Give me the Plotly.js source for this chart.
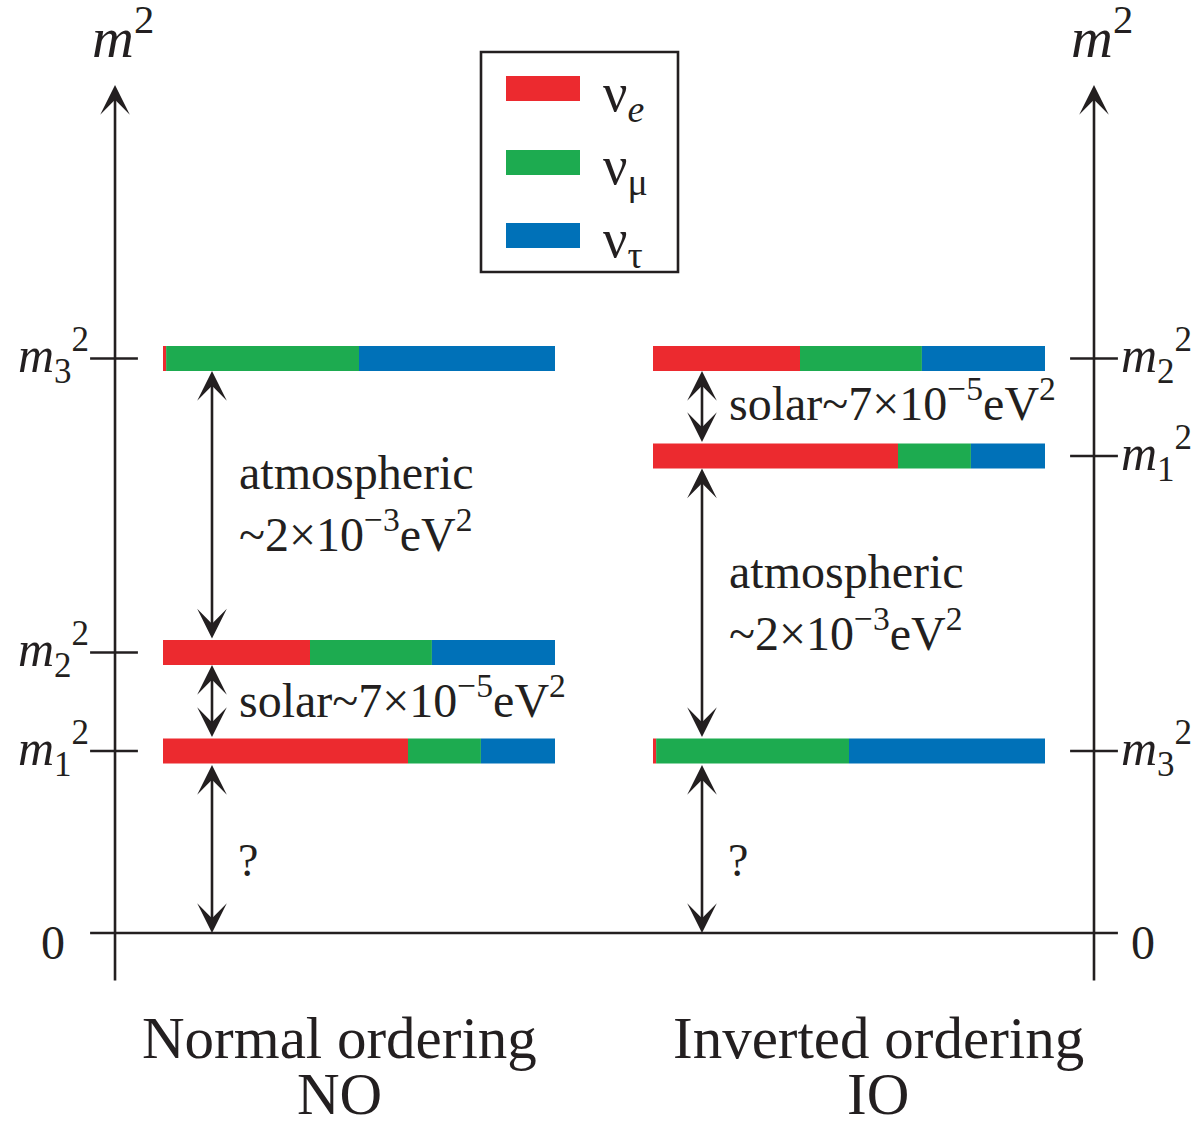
<!DOCTYPE html>
<html>
<head>
<meta charset="utf-8">
<script src="https://cdn.plot.ly/plotly-3.0.1.min.js"></script>
<style>
  html, body { margin: 0; padding: 0; background: #ffffff; }
  #chart { width: 1198px; height: 1122px; }
</style>
</head>
<body>
<div id="chart"></div>
<script>
// Flavour content of each mass eigenstate (fraction of nu_e, nu_mu, nu_tau)
const massStates = ['m1', 'm2', 'm3'];
const fracE   = [0.625, 0.375, 0.008];
const fracMu  = [0.186, 0.311, 0.492];
const fracTau = [0.189, 0.314, 0.500];

const flavourLabels = ['ν<sub><i>e</i></sub>', 'ν<sub>μ</sub>', 'ν<sub>τ</sub>'];
const flavourColors = ['#EC2A2F', '#1DAB50', '#0071B8'];

// Schematic height of every mass level above zero (arbitrary units)
const levelsNO = [1.82, 2.805, 5.745];   // m1, m2, m3
const levelsIO = [4.77, 5.745, 1.82];    // m1, m2, m3

const massLabels = ['<i>m</i><sub>1</sub><sup>2</sup>',
                    '<i>m</i><sub>2</sub><sup>2</sup>',
                    '<i>m</i><sub>3</sub><sup>2</sup>'];

const orderingNames = ['Normal ordering', 'Inverted ordering'];
const orderingShort = ['NO', 'IO'];
const solarText = 'solar~7×10<sup>−5</sup>eV<sup>2</sup>';
const atmText = 'atmospheric<br>~2×10<sup>−3</sup>eV<sup>2</sup>';

// ---- geometry of the schematic (x in units of one bar length) ----
const INK = '#231F20';
const FONT = 'Liberation Serif, Times New Roman, serif';
const LW = 2.6;
const HEAD = 1.9;
const panelStart = [0, 1.25];            // left edge of NO and IO bars
const barThick = 0.25;                   // bar thickness in level units
const axisX = [-0.1224, 2.375];          // the two vertical m^2 axes
const tickSpan = [[-0.186, -0.064], [2.314, 2.436]];
const arrowDx = 0.125;                   // splitting arrows, from bar start
const axisBottom = -0.49, axisTop = 8.48;

const allLevels = [levelsNO, levelsIO];
const fracs = [fracE, fracMu, fracTau];

// stacked horizontal bars, one trace per flavour
const traces = [];
for (let f = 0; f < 3; f++) {
  const y = [], x = [], base = [];
  allLevels.forEach((lv, p) => {
    for (let s = 0; s < massStates.length; s++) {
      let before = 0;
      for (let k = 0; k < f; k++) before += fracs[k][s];
      y.push(lv[s]);
      x.push(fracs[f][s]);
      base.push(panelStart[p] + before);
    }
  });
  traces.push({
    type: 'bar', orientation: 'h', y: y, x: x, base: base,
    width: barThick, marker: { color: flavourColors[f], line: { width: 0 } },
    hoverinfo: 'skip', showlegend: false
  });
}

const shapes = [];
const annotations = [];

// zero line
shapes.push({ type: 'line', xref: 'x', yref: 'y', x0: tickSpan[0][0], x1: tickSpan[1][1],
              y0: 0, y1: 0, line: { color: INK, width: LW } });

function arrow(x, y, ax, ay, both) {
  annotations.push({
    xref: 'x', yref: 'y', axref: 'x', ayref: 'y',
    x: x, y: y, ax: ax, ay: ay, text: '', showarrow: true,
    arrowhead: 3, startarrowhead: 3, arrowside: both ? 'end+start' : 'end',
    arrowsize: HEAD, startarrowsize: HEAD, arrowwidth: LW, arrowcolor: INK
  });
}
function label(text, x, y, size, opts) {
  annotations.push(Object.assign({
    xref: 'x', yref: 'y', x: x, y: y, text: text, showarrow: false,
    font: { family: FONT, size: size, color: INK },
    xanchor: 'center', yanchor: 'middle'
  }, opts || {}));
}

// vertical axes with arrowheads, ticks and labels
for (let p = 0; p < 2; p++) {
  arrow(axisX[p], axisTop, axisX[p], axisBottom, false);
  label('<i>m</i><sup>2</sup>', axisX[p], 9.0, 58, { xshift: 8 });
  label('0', p === 0 ? -0.28 : 2.5, -0.09, 48);
  allLevels[p].forEach((lv, s) => {
    shapes.push({ type: 'line', xref: 'x', yref: 'y', x0: tickSpan[p][0], x1: tickSpan[p][1],
                  y0: lv, y1: lv, line: { color: INK, width: LW } });
    if (p === 0) {
      label(massLabels[s], tickSpan[0][0], lv, 50, { xanchor: 'right', xshift: 1, yshift: 3 });
    } else {
      label(massLabels[s], tickSpan[1][1], lv, 50, { xanchor: 'left', xshift: 1, yshift: 3 });
    }
  });
}

// splitting arrows
const h = barThick / 2;
const xa = [panelStart[0] + arrowDx, panelStart[1] + arrowDx];
// NO: 0 -> m1 -> m2 -> m3
arrow(xa[0], 0, xa[0], levelsNO[0] - h, true);
arrow(xa[0], levelsNO[1] - h, xa[0], levelsNO[0] + h, true);
arrow(xa[0], levelsNO[2] - h, xa[0], levelsNO[1] + h, true);
// IO: 0 -> m3 -> m1 -> m2
arrow(xa[1], 0, xa[1], levelsIO[2] - h, true);
arrow(xa[1], levelsIO[0] - h, xa[1], levelsIO[2] + h, true);
arrow(xa[1], levelsIO[1] - h, xa[1], levelsIO[0] + h, true);

// splitting labels
const tx = [0.189, 1.439];
label(atmText, tx[0], 4.30, 48, { xanchor: 'left', align: 'left' });
label(solarText, tx[0], 2.36, 48, { xanchor: 'left' });
label(atmText, tx[1], 3.31, 48, { xanchor: 'left', align: 'left' });
label(solarText, tx[1], 5.33, 48, { xanchor: 'left' });
label('?', 0.217, 0.73, 46);
label('?', 1.467, 0.73, 46);

// ordering titles
const titleX = [0.4515, 1.824];
for (let p = 0; p < 2; p++) {
  label(orderingNames[p], titleX[p], -1.05, 59);
  label(orderingShort[p], titleX[p], -1.61, 59);
}

// flavour legend (paper coordinates measured in pixels)
const W = 1198, H = 1122;
const px = v => v / W, py = v => 1 - v / H;
shapes.push({ type: 'rect', xref: 'paper', yref: 'paper', x0: px(481), x1: px(678),
              y0: py(272), y1: py(52), line: { color: INK, width: LW }, fillcolor: 'rgba(0,0,0,0)' });
const swatchTop = [76, 150, 223];
for (let f = 0; f < 3; f++) {
  shapes.push({ type: 'rect', xref: 'paper', yref: 'paper', x0: px(506), x1: px(580),
                y0: py(swatchTop[f] + 25), y1: py(swatchTop[f]),
                fillcolor: flavourColors[f], line: { width: 0 } });
  annotations.push({ xref: 'paper', yref: 'paper', x: px(601), y: py(swatchTop[f] + 20),
                     text: flavourLabels[f], showarrow: false, xanchor: 'left', yanchor: 'middle',
                     font: { family: FONT, size: 54, color: INK } });
}

const layout = {
  width: W, height: H,
  margin: { l: 0, r: 0, t: 0, b: 0, pad: 0 },
  paper_bgcolor: '#ffffff', plot_bgcolor: '#ffffff',
  barmode: 'overlay', showlegend: false,
  xaxis: { range: [-163 / 392, 1035 / 392], visible: false, fixedrange: true },
  yaxis: { range: [-1.89, 9.33], visible: false, fixedrange: true },
  shapes: shapes, annotations: annotations
};

Plotly.newPlot('chart', traces, layout, { staticPlot: true, displayModeBar: false });
</script>
</body>
</html>
